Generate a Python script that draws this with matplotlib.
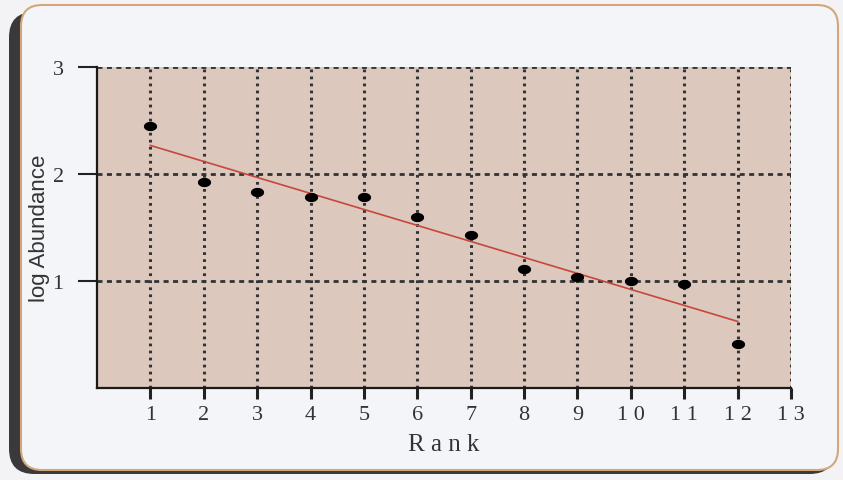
import numpy as np
import matplotlib
matplotlib.use("Agg")
import matplotlib.pyplot as plt
from matplotlib.patches import FancyBboxPatch
from matplotlib.path import Path

# rank / log abundance
rank = [1, 2, 3, 4, 5, 6, 7, 8, 9, 10, 11, 12]
log_abund = [2.45, 1.925, 1.83, 1.785, 1.785, 1.60, 1.43, 1.11, 1.04, 1.0, 0.97, 0.41]
xticks = list(range(1, 14))
xlabels = ["1", "2", "3", "4", "5", "6", "7", "8", "9", "1 0", "1 1", "1 2", "1 3"]
yticks = [1, 2, 3]

W, H = 843, 481
fig = plt.figure(figsize=(W / 100, H / 100), dpi=100)
fig.patch.set_facecolor("#f3f3f6")

# card shadow + card
shadow = FancyBboxPatch((9 / W, 6 / H), 826 / W, 462 / H,
                        boxstyle="round,pad=0,rounding_size=0.03",
                        transform=fig.transFigure, facecolor="#3a3838",
                        edgecolor="none", zorder=0, mutation_aspect=W / H)
card = FancyBboxPatch((21 / W, 10 / H), 817 / W, 465 / H,
                      boxstyle="round,pad=0,rounding_size=0.025",
                      transform=fig.transFigure, facecolor="#f4f5f9",
                      edgecolor="#d4a67c", linewidth=1.5, zorder=1,
                      mutation_aspect=W / H)
fig.patches.extend([shadow, card])

ax = fig.add_axes([97 / W, 1 - 389 / H, (791 - 97) / W, (389 - 68) / H])
ax.set_zorder(2)
ax.set_facecolor("#dcc8bd")

# fitted line
coef = np.polyfit(rank, log_abund, 1)
xf = np.array([rank[0], rank[-1]])
ax.plot(xf, np.polyval(coef, xf), color="#c8463c", lw=1.2, zorder=3)

# ellipse marker
t = np.linspace(0, 2 * np.pi, 40)
ell = Path(np.column_stack([1.5 * np.cos(t), np.sin(t)]))
ax.plot(rank, log_abund, ls="none", marker=ell, ms=8.5, color="black", zorder=4)

for x in xticks:
    ax.axvline(x, color="#333333", lw=2.2, ls=(0, (0.9, 1.4)), zorder=2)
for y in yticks:
    ax.axhline(y, color="#333333", lw=2, ls=(0, (1.8, 1.6)), zorder=2)

ax.set_xlim(0, 13)
ax.set_ylim(0, 3)
ax.set_xticks(xticks)
ax.set_xticklabels(xlabels, family="Liberation Serif", fontsize=16, color="#333333")
ax.set_yticks(yticks)
ax.set_yticklabels([str(v) for v in yticks], family="Liberation Serif", fontsize=16, color="#333333")
ax.tick_params(axis="x", length=8, width=2.2, pad=4, color="#222222")
ax.tick_params(axis="y", length=14, width=1.5, pad=10, color="#222222")

for s in ["top", "right"]:
    ax.spines[s].set_visible(False)
for s in ["left", "bottom"]:
    ax.spines[s].set_linewidth(1.6)
    ax.spines[s].set_color("#1a1a1a")

ax.set_xlabel("R a n k", family="Liberation Serif", fontsize=18, color="#333333")
ax.xaxis.set_label_coords(0.5, -45 / 321)
ax.set_ylabel("log Abundance", family="Liberation Sans", fontsize=16, color="#333333")
ax.yaxis.set_label_coords(-47 / 694, 0.5)

fig.savefig("out.png", dpi=100)
